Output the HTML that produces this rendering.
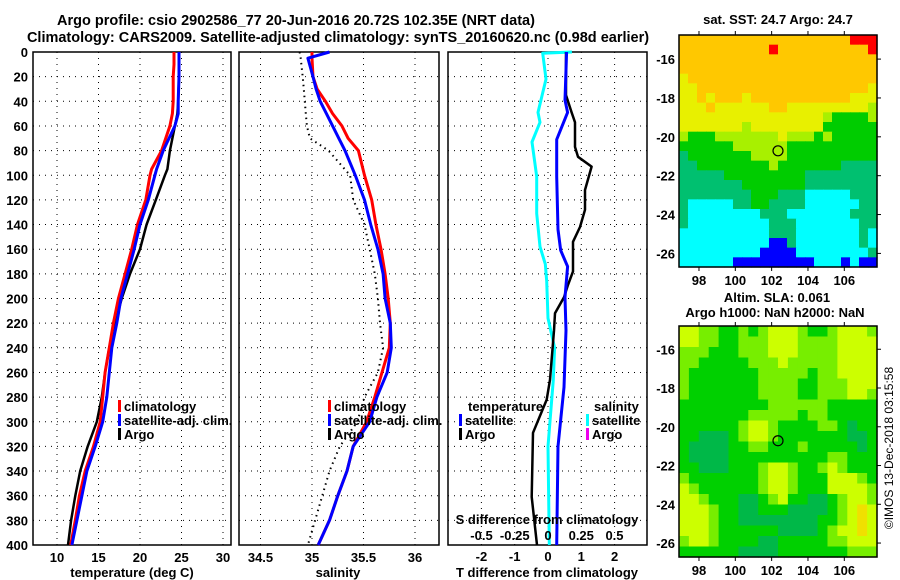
<!DOCTYPE html>
<html><head><meta charset="utf-8">
<style>
html,body{margin:0;padding:0;background:#fff;}
svg{display:block;font-family:"Liberation Sans",Arial,sans-serif;font-weight:bold;}
</style></head>
<body>
<svg id="chart" width="900" height="580" viewBox="0 0 900 580" xmlns="http://www.w3.org/2000/svg">
<text x="296" y="25" font-size="14.5" text-anchor="middle">Argo profile: csio 2902586_77 20-Jun-2016 20.72S 102.35E (NRT data)</text>
<text x="338" y="42" font-size="14.5" text-anchor="middle">Climatology: CARS2009. Satellite-adjusted climatology: synTS_20160620.nc (0.98d earlier)</text>
<g id="g1"></g>
<g id="g2"></g>
<g id="g3"></g>
<g id="m1"></g>
<g id="m2"></g>
<text x="778" y="24" font-size="13" text-anchor="middle">sat. SST: 24.7 Argo: 24.7</text>
<text x="777" y="302" font-size="13" text-anchor="middle">Altim. SLA: 0.061</text>
<text x="775" y="317" font-size="13" text-anchor="middle">Argo h1000: NaN h2000: NaN</text>
<text transform="translate(893,448) rotate(-90)" font-size="12" font-weight="normal" text-anchor="middle">©IMOS 13-Dec-2018 03:15:58</text>
</svg>
<script>
// ---- data ----
const tDepths = [0,10,20,40,50,60,80,95,100,120,140,160,180,200,220,240,260,280,300,320,340,360,380,400];
const tempClim = [24.1,24.1,24.0,24.0,23.9,23.6,22.6,21.4,21.2,20.7,19.7,19.0,18.2,17.4,16.8,16.3,15.8,15.5,15.2,14.4,13.4,12.7,12.2,11.65];
const tempSat  = [24.7,24.7,24.7,24.6,24.6,24.2,22.8,22.0,21.8,21.0,20.0,19.3,18.5,17.7,17.2,16.6,16.3,16.0,15.5,14.6,13.6,13.0,12.4,11.8];
const tempArgo = [24.7,24.7,24.7,24.6,24.5,24.2,23.6,23.3,23.0,21.9,20.8,20.0,18.8,17.8,17.0,16.3,15.8,15.4,14.8,13.7,12.8,12.2,11.7,11.33];
const sDepths = [0,5,20,30,40,50,60,70,80,100,120,140,160,180,200,220,240,260,280,300,320,340,360,380,400];
const salClim = [35.00,35.00,35.01,35.05,35.13,35.20,35.29,35.35,35.45,35.51,35.58,35.62,35.67,35.71,35.74,35.76,35.75,35.68,35.61,35.53,35.40,35.34,35.25,35.17,35.06];
const salSat  = [35.17,34.96,35.01,35.04,35.08,35.14,35.20,35.26,35.32,35.42,35.51,35.57,35.64,35.69,35.71,35.76,35.77,35.73,35.63,35.56,35.40,35.34,35.25,35.17,35.06];
const salArgo = [34.88,34.89,34.91,34.92,34.93,34.94,34.95,34.98,35.16,35.37,35.40,35.51,35.56,35.61,35.64,35.66,35.69,35.64,35.51,35.44,35.27,35.17,35.10,35.03,34.96];
const dtSatDepths = [0,39,49,71,101,144,161,174,199,226,272,320,400];
const dtSat = [0.56,0.51,0.59,0.26,0.26,0.30,0.38,0.59,0.51,0.54,0.48,0.30,0.26];
const dtArgoDepths = [0,35,49,57,77,85,93,112,128,142,154,178,189,199,212,226,266,282,309,361,400];
const dtArgo = [0.54,0.54,0.71,0.81,0.81,0.90,1.31,1.11,1.11,0.96,0.75,0.75,0.60,0.48,0.21,0.18,0.06,-0.04,-0.45,-0.49,-0.33];
const dsSatDepths = [0,1,22,49,57,73,101,131,158,172,186,216,240,266,320,400];
const dsSat = [0.18,-0.04,-0.015,-0.075,-0.06,-0.12,-0.085,-0.085,-0.06,-0.02,-0.01,0.0,0.05,0.04,0.0,0.01];
const depthTicks = [0,20,40,60,80,100,120,140,160,180,200,220,240,260,280,300,320,340,360,380,400];
const tempTicks = [10,15,20,25,30];
const salTicks = [34.5,35,35.5,36];
const tdTicks = [-2,-1,0,1,2];
const sdTicks = [-0.5,-0.25,0,0.25,0.5];
const sdTickLabels = ["-0.5","-0.25","0","0.25","0.5"];
const lonTicks = [98,100,102,104,106];
const latTicks = [-16,-18,-20,-22,-24,-26];
const argoLon = 102.35, argoLat = -20.72;
const sstGrid = [
"ooooooooooooooooooorrr","ooooooooooroooooooooor","oooooooooooooooooooooo","oooooooooooooooooooooo",
"yooooooooooooooooooooo","yyoooooooooooooooooooy","yyoyoooyoooooooooooyyy","yyyoyyyyyyooyyyyyyyyyl",
"yyyyyyyyyyyyyyyylggggl","yyyyyyylyyyyyyyygggggg","lggglllllllylllglggggg","ggggggllllllgggggggggg",
"tgggggggllllgggggggggg","ttgggggggglgggggggtttt","tttttgggggggggtttttttt","tttttttgggggggtttttttt",
"ttttttttgggtttcccccttt","tcccccttggttttcccccctt","tcccccccctttcccccccttt","tccccccccctttccccccctt",
"cccccccccctttccccccctc","ccccccccccbbtccccccctc","cccccccccbbbbcccccccct","ccccccbbbbbbbbbcccbcbb"];
const slaGrid = [
"YYLLGGLGLYYYLGGLYYYL","YYLLGGLLLYYYLLLLYYYY","LLLGGGLLLYYYLLLLYYYY","LLGGGGGLLLYLLLLLYYYY",
"LGGGGGGGLLLLLGLLYYYY","LGGGGGGGLLLLGGLLLYYY","LGGGGGGGLLLLGGLLLYYL","GGGGGGGGGLLLLLLGGGGG",
"GGGGGGGLLLLLGLLGGGGG","GGGGGGLYYLGGGGLLGDGG","GGDDDGLYYLGGGGGGGDDG","GDDDDGGLLGGGLGGGGGDG",
"GDDDDGGGGGGGGGGLLGGG","GGDDDGGGLYYLGGLYLGGG","LGGGGGGGLYYLGGGYYYLG","YLGGGGGGLYYLGGGYYYYL",
"YYLGGGDDGLYGGDDGLYYL","YYYLGGDDGGGDDDDGLYOY","YYYLGGDDDDDDDDGGLYOY","YYYLGGGGGGDDDDGLYYOY",
"LYYLGGGGDDGGGGGLLYYY","GGGGGGDDDDGGGGGGGLLL"];

// ---- helpers ----
const NS="http://www.w3.org/2000/svg";
function mk(parent,tag,attrs,txt){const e=document.createElementNS(NS,tag);for(const k in attrs)e.setAttribute(k,attrs[k]);if(txt!==undefined)e.textContent=txt;parent.appendChild(e);return e;}
const TOP=52,BOT=545;
const yD=d=>TOP+d*1.2325;
const xT=t=>57+(t-10)*8.3;
const xS=s=>312+(s-35)*103;
const xDT=t=>548+t*33.3;
const xDS=s=>548+s*133;

function frame(g,x0,x1,vticks,name){
  depthTicks.forEach(d=>{const l=mk(g,'line',{x1:x0,x2:x1,y1:yD(d),y2:yD(d),stroke:'#000','stroke-width':1,'stroke-dasharray':'1,5'});
    });
  vticks.forEach(x=>{const l=mk(g,'line',{x1:x,x2:x,y1:TOP,y2:BOT,stroke:'#000','stroke-width':1,'stroke-dasharray':'1,5'});
    });
  const r=mk(g,'rect',{x:x0,y:TOP,width:x1-x0,height:BOT-TOP,fill:'none',stroke:'#000','stroke-width':1.5});
  
}
function line(g,xs,ys,xf,color,w,name,dash){
  const pts=xs.map((v,i)=>xf(v).toFixed(1)+','+yD(ys[i]).toFixed(1)).join(' ');
  const a={points:pts,fill:'none',stroke:color,'stroke-width':w,'stroke-linejoin':'round'};
  if(dash)a['stroke-dasharray']=dash;
  const p=mk(g,'polyline',a);
  
}
function legend(g,x,y,color,label){
  const b=mk(g,'rect',{x:x,y:y-11,width:3,height:12,fill:color});
  
  const t=mk(g,'text',{x:x+6,y:y,'font-size':13},label);
  
}
function txt(g,x,y,s,anchor,size,name){
  const t=mk(g,'text',{x:x,y:y,'font-size':size||13,'text-anchor':anchor||'middle'},s);
  return t;
}

// ---- panel 1 ----
const g1=document.getElementById('g1');
frame(g1,33,231,tempTicks.map(xT),'temperature-panel');
depthTicks.forEach(d=>txt(g1,28,yD(d)+5,String(d),'end',13,'depth-tick-label'));
tempTicks.forEach(t=>txt(g1,xT(t),562,String(t),'middle',13,'temperature-tick-label'));
txt(g1,132,577,'temperature (deg C)','middle',13,'x-axis-title-temperature');
line(g1,tempArgo,tDepths,xT,'#000',2.5,'argo-temperature-line');
line(g1,tempClim,tDepths,xT,'#f00',3,'climatology-temperature-line');
line(g1,tempSat,tDepths,xT,'#00f',3,'satellite-temperature-line');
legend(g1,118,411,'#f00','climatology');
legend(g1,118,425,'#00f','satellite-adj. clim.');
legend(g1,118,439,'#000','Argo');

// ---- panel 2 ----
const g2=document.getElementById('g2');
frame(g2,239,439,salTicks.map(xS),'salinity-panel');
salTicks.forEach(s=>txt(g2,xS(s),562,String(s),'middle',13,'salinity-tick-label'));
txt(g2,338,577,'salinity','middle',13,'x-axis-title-salinity');
line(g2,salArgo,sDepths,xS,'#000',2,'argo-salinity-line','1.5,4');
line(g2,salClim,sDepths,xS,'#f00',3,'climatology-salinity-line');
line(g2,salSat,sDepths,xS,'#00f',3,'satellite-salinity-line');
legend(g2,328,411,'#f00','climatology');
legend(g2,328,425,'#00f','satellite-adj. clim.');
legend(g2,328,439,'#000','Argo');

// ---- panel 3 ----
const g3=document.getElementById('g3');
frame(g3,448,647,tdTicks.map(xDT),'difference-panel');
line(g3,dsSat,dsSatDepths,xDS,'#0ff',3,'satellite-salinity-diff-line');
line(g3,dtArgo,dtArgoDepths,xDT,'#000',2.5,'argo-temperature-diff-line');
line(g3,dtSat,dtSatDepths,xDT,'#00f',3,'satellite-temperature-diff-line');
txt(g3,468,411,'temperature','start',13,'temperature-legend-heading');
legend(g3,459,425,'#00f','satellite');
legend(g3,459,439,'#000','Argo');
txt(g3,594,411,'salinity','start',13,'salinity-legend-heading');
legend(g3,586,425,'#0ff','satellite');
legend(g3,586,439,'#e0e','Argo');
txt(g3,547,524,'S difference from climatology','middle',13,'s-difference-axis-title');
sdTicks.forEach((s,i)=>txt(g3,xDS(s),540,sdTickLabels[i],'middle',13,'s-difference-tick-label'));
tdTicks.forEach(t=>txt(g3,xDT(t),561,String(t),'middle',13,'t-difference-tick-label'));
txt(g3,547,577,'T difference from climatology','middle',13,'t-difference-axis-title');

// ---- maps ----
const sstColors={o:'#ffc800',r:'#ff0000',y:'#e8f000',l:'#a8f000',g:'#00cc00',t:'#00c070',c:'#00ffff',b:'#0000ff'};
const slaColors={Y:'#ccff00',L:'#77ee00',G:'#00d000',D:'#00b848',O:'#f0e000'};
function map(id,grid,colors,x0,x1,y0,y1,lat0,lat1,name,labY){
  const g=document.getElementById(id);
  const rows=grid.length,cols=grid[0].length,cw=(x1-x0)/cols,ch=(y1-y0)/rows;
  grid.forEach((row,r)=>{for(let c=0;c<cols;c++){
    const cell=mk(g,'rect',{x:(x0+c*cw).toFixed(2),y:(y0+r*ch).toFixed(2),width:(cw+0.6).toFixed(2),height:(ch+0.6).toFixed(2),fill:colors[row[c]]});
    }});
  const lonX=lo=>x0+(lo-96.9)/(107.8-96.9)*(x1-x0);
  const latY=la=>y0+(lat0-la)/(lat0-lat1)*(y1-y0);
  const fr=mk(g,'rect',{x:x0,y:y0,width:x1-x0,height:y1-y0,fill:'none',stroke:'#000','stroke-width':1.5});
  
  lonTicks.forEach(lo=>{const x=lonX(lo);
    mk(g,'line',{x1:x,x2:x,y1:y0,y2:y0-4,stroke:'#000'});mk(g,'line',{x1:x,x2:x,y1:y1,y2:y1+4,stroke:'#000'});
    txt(g,x,labY,String(lo),'middle',13,'longitude-tick-label');});
  latTicks.forEach(la=>{const y=latY(la);
    mk(g,'line',{x1:x1,x2:x1+4,y1:y,y2:y,stroke:'#000'});
    txt(g,x0-4,y+5,String(la),'end',13,'latitude-tick-label');});
  const m=mk(g,'circle',{cx:lonX(argoLon),cy:latY(argoLat),r:5,fill:'none',stroke:'#000','stroke-width':1.2});
  
}
map('m1',sstGrid,sstColors,679,877,35,267,-14.76,-26.7,'sst-map',285);
map('m2',slaGrid,slaColors,679,877,326,557,-14.8,-26.72,'sla-map',575);
</script>
</body></html>
